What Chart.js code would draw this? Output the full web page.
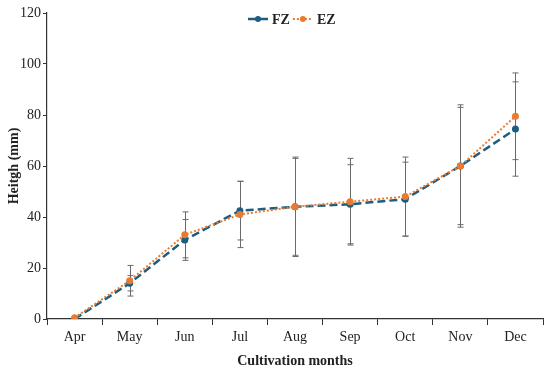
<!DOCTYPE html>
<html lang="en">
<head>
    <meta charset="UTF-8">
    <title>Heitgh by cultivation month</title>
    <script src="https://cdn.jsdelivr.net/npm/chart.js"></script>
    <style>
        html, body { margin: 0; padding: 0; background: #fff; }
        #box { width: 550px; height: 375px; }
    </style>
</head>
<body>
    <div id="box">
        <canvas id="grafico"></canvas>
    </div>

    <script>
        // dados
        const meses = ['Apr', 'May', 'Jun', 'Jul', 'Aug', 'Sep', 'Oct', 'Nov', 'Dec'];
        const fz = [0, 14, 31, 42.5, 44, 45, 47, 60, 74.5];
        const ez = [0.5, 15, 33, 41, 44, 46, 48, 60, 79.5];
        const fzErro = [0, 3, 8, 11.5, 19, 15.5, 14.5, 23, 18.5];
        const ezErro = [0, 6, 9, 13, 19.5, 17, 15.5, 24, 17];
        const yTicks = [0, 20, 40, 60, 80, 100, 120];

        const azul = '#1d5e80';
        const laranja = '#e97b30';
        const fonte = "'Liberation Serif', 'DejaVu Serif', serif";

        // barras de erro + legenda desenhadas a mao
        const barrasErro = {
            id: 'barrasErro',
            beforeDatasetsDraw(chart) {
                const ctx = chart.ctx;
                const x = chart.scales.x;
                const y = chart.scales.y;
                const erros = [fzErro, ezErro];
                ctx.save();
                ctx.strokeStyle = '#6a6a6a';
                ctx.lineWidth = 1;
                chart.data.datasets.forEach((ds, d) => {
                    ds.data.forEach((v, i) => {
                        const e = erros[d][i];
                        if (!e) return;
                        const px = Math.round(x.getPixelForValue(i)) + 0.5;
                        const top = y.getPixelForValue(v + e);
                        const bot = y.getPixelForValue(v - e);
                        ctx.beginPath();
                        ctx.moveTo(px, top);
                        ctx.lineTo(px, bot);
                        ctx.moveTo(px - 3, top);
                        ctx.lineTo(px + 3, top);
                        ctx.moveTo(px - 3, bot);
                        ctx.lineTo(px + 3, bot);
                        ctx.stroke();
                    });
                });
                ctx.restore();
            },
            afterDraw(chart) {
                const ctx = chart.ctx;
                const area = chart.chartArea;
                let xs = (area.left + area.right) / 2 - 47;
                const yl = 19;
                ctx.save();
                ctx.font = "bold 14px " + fonte;
                ctx.textBaseline = 'middle';
                chart.data.datasets.forEach((ds) => {
                    ctx.strokeStyle = ds.borderColor;
                    ctx.lineWidth = ds.borderWidth;
                    ctx.setLineDash(ds.borderDash);
                    ctx.beginPath();
                    ctx.moveTo(xs, yl);
                    ctx.lineTo(xs + 20, yl);
                    ctx.stroke();
                    ctx.setLineDash([]);
                    ctx.fillStyle = ds.pointBackgroundColor;
                    ctx.beginPath();
                    ctx.arc(xs + 10, yl, 3, 0, Math.PI * 2);
                    ctx.fill();
                    ctx.fillStyle = '#222';
                    ctx.fillText(ds.label, xs + 24, yl + 1);
                    xs += 24 + ctx.measureText(ds.label).width + 3;
                });
                ctx.restore();
            }
        };

        const config = {
            type: 'line',
            data: {
                labels: meses,
                datasets: [{
                    label: 'FZ',
                    data: fz,
                    order: 1,
                    borderColor: azul,
                    backgroundColor: azul,
                    pointBackgroundColor: azul,
                    pointBorderColor: azul,
                    borderWidth: 2.5,
                    borderDash: [8, 4],
                    pointRadius: 3.5,
                    pointBorderWidth: 0,
                    tension: 0
                }, {
                    label: 'EZ',
                    data: ez,
                    order: 0,
                    borderColor: laranja,
                    backgroundColor: laranja,
                    pointBackgroundColor: laranja,
                    pointBorderColor: laranja,
                    borderWidth: 2,
                    borderDash: [2, 2],
                    pointRadius: 3.5,
                    pointBorderWidth: 0,
                    tension: 0
                }]
            },
            options: {
                responsive: true,
                maintainAspectRatio: false,
                animation: false,
                layout: { padding: { top: 13, right: 7, left: 0, bottom: 0 } },
                plugins: {
                    legend: { display: false },
                    tooltip: { enabled: false }
                },
                scales: {
                    x: {
                        type: 'category',
                        offset: true,
                        afterFit: (s) => { s.height = 56; },
                        grid: {
                            offset: true,
                            drawOnChartArea: false,
                            drawTicks: true,
                            tickLength: 6,
                            color: '#333'
                        },
                        border: { color: '#333', width: 1.2 },
                        ticks: {
                            color: '#222',
                            padding: 4,
                            font: { family: fonte, size: 14 }
                        },
                        title: {
                            display: true,
                            text: 'Cultivation months',
                            color: '#222',
                            padding: { top: 2, bottom: 5 },
                            font: { family: fonte, size: 14, weight: 'bold' }
                        }
                    },
                    y: {
                        min: 0,
                        max: 120,
                        afterFit: (s) => { s.width = 47; },
                        afterBuildTicks: (s) => { s.ticks = yTicks.map(v => ({ value: v })); },
                        grid: {
                            drawOnChartArea: false,
                            drawTicks: true,
                            tickLength: 4,
                            color: '#333'
                        },
                        border: { color: '#333', width: 1.2 },
                        ticks: {
                            color: '#222',
                            padding: 2,
                            font: { family: fonte, size: 14 }
                        },
                        title: {
                            display: true,
                            text: 'Heitgh (mm)',
                            color: '#222',
                            padding: { top: 6, bottom: 0 },
                            font: { family: fonte, size: 14, weight: 'bold' }
                        }
                    }
                }
            },
            plugins: [barrasErro]
        };

        new Chart(document.getElementById('grafico').getContext('2d'), config);
    </script>
</body>
</html>
